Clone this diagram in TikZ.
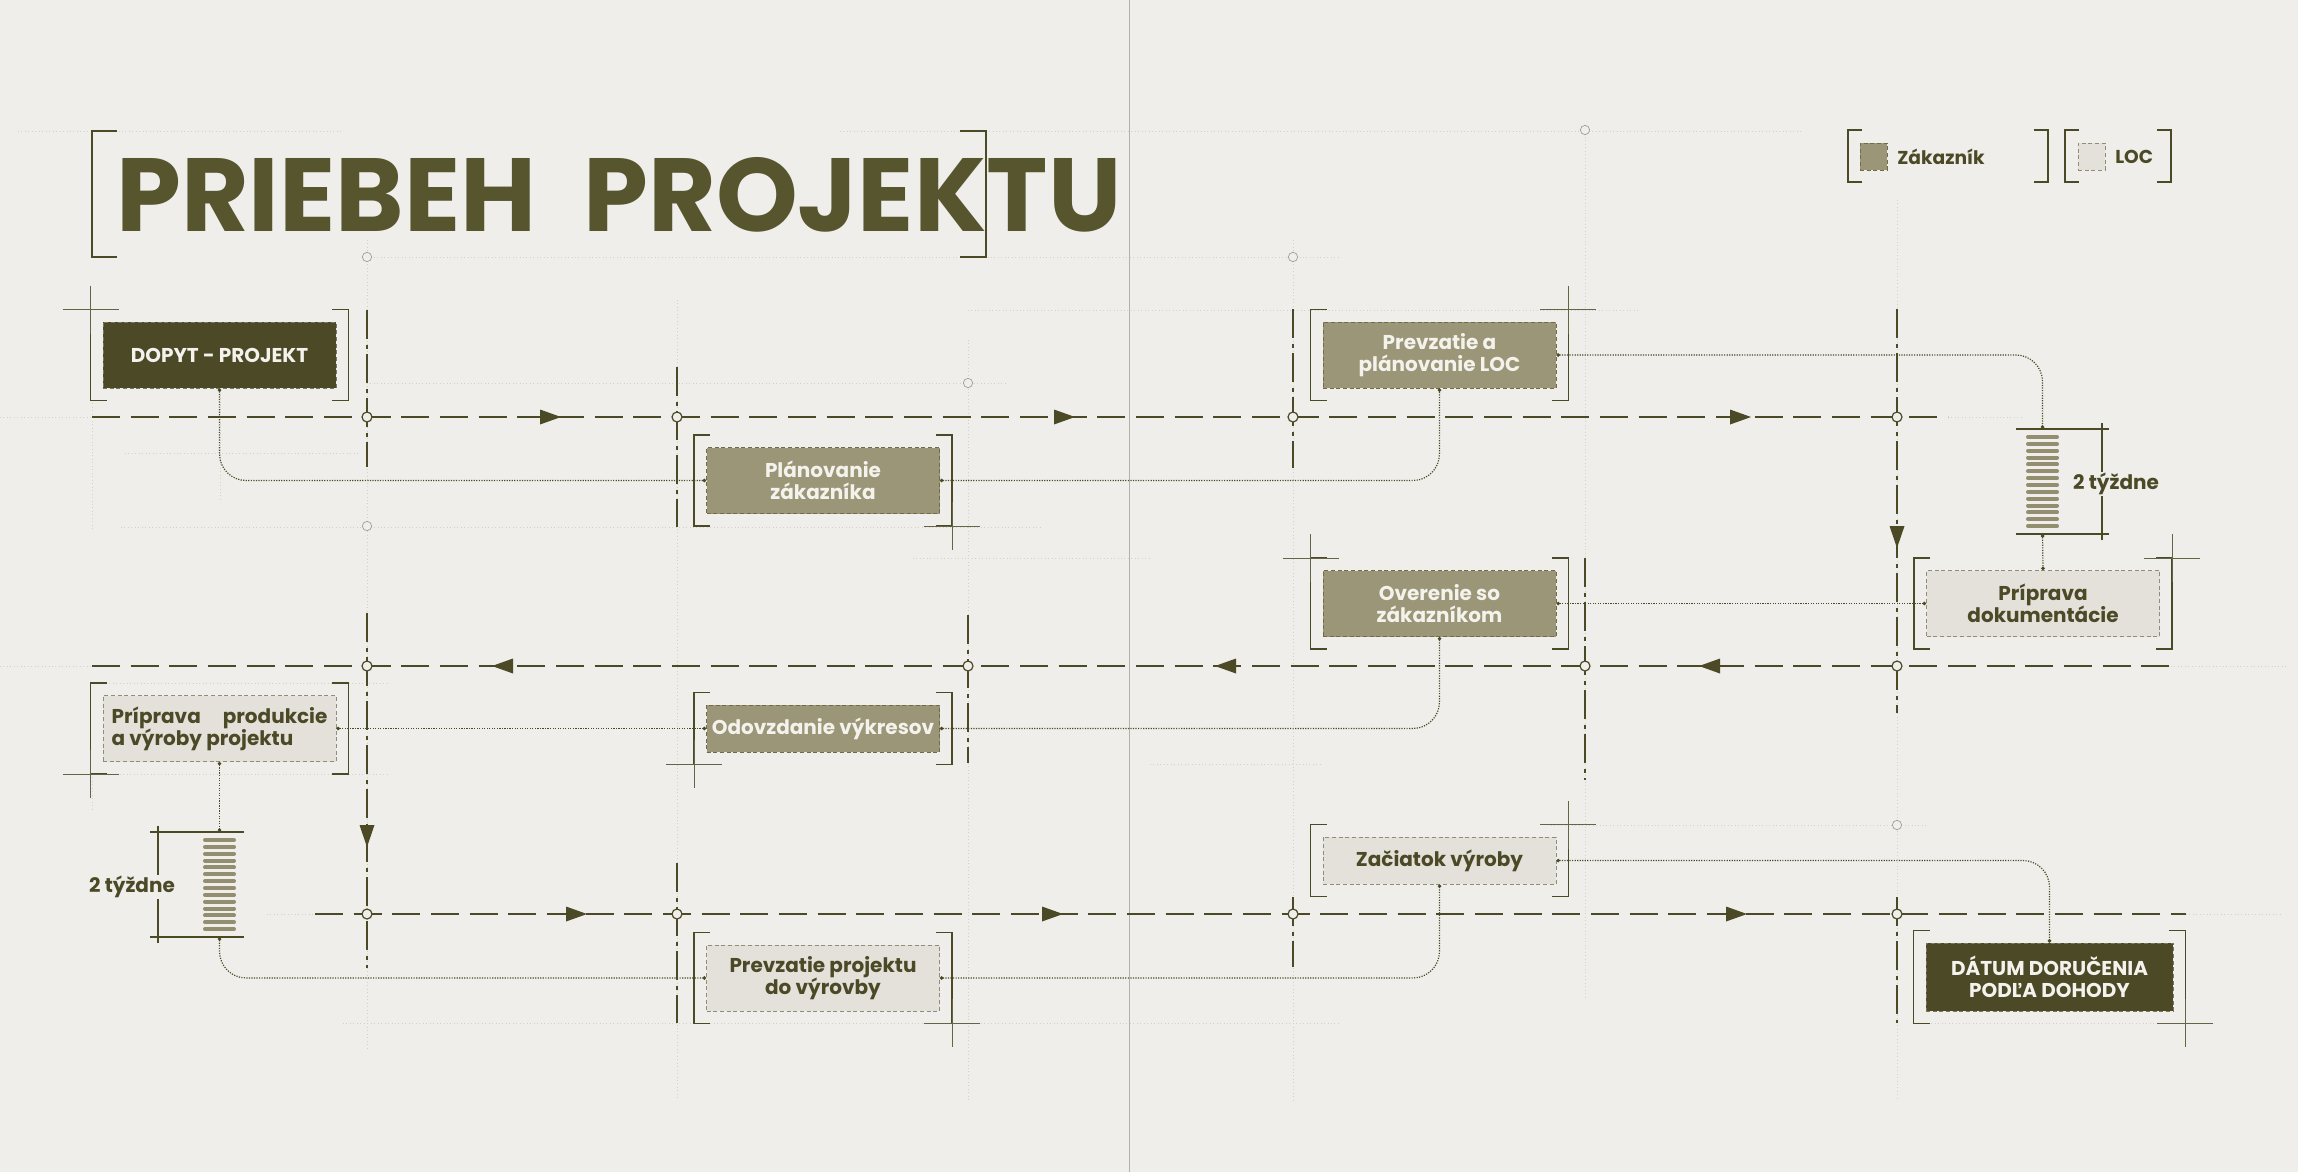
\documentclass[tikz,border=0pt]{standalone}
\usepackage{fontspec}
\setmainfont{Poppins}
\usepackage{tikz}
\usetikzlibrary{arrows.meta}

\definecolor{paper}{HTML}{EFEEEA}
\definecolor{olive}{HTML}{4B4926}
\definecolor{oliveT}{HTML}{57552E}
\definecolor{khaki}{HTML}{9A9677}
\definecolor{stone}{HTML}{E3E1DA}
\definecolor{guide}{HTML}{D2D0C9}
\definecolor{whiteT}{HTML}{F4F2EC}

\tikzset{
  flow/.style={olive, line width=1.6pt, dash pattern=on 21pt off 8pt},
  flowv/.style={olive, line width=1.2pt, dash pattern=on 22pt off 4pt on 3pt off 4pt},
  conn/.style={olive, line width=0.9pt, densely dotted, rounded corners=20pt, {Circle[length=2.6pt]}-{Circle[length=2.6pt]}},
  ghost/.style={guide, line width=0.6pt, dotted},
  fold/.style={guide!85!black, line width=0.6pt},
  frame/.style={olive, line width=0.9pt},
  hair/.style={olive!85, line width=0.7pt},
  dim/.style={olive, line width=0.8pt},
  stripe/.style={khaki!90!olive, line width=3pt, line cap=round},
  knot/.style={circle, draw=olive, fill=paper, line width=0.9pt, inner sep=0pt, minimum size=7.5pt},
  ghostknot/.style={circle, draw=guide!75!black, fill=paper, line width=0.5pt, inner sep=0pt, minimum size=7pt},
  stepbox/.style={rectangle, minimum width=174.75pt, minimum height=49.5pt, inner sep=2pt, align=center,
    font=\bfseries\fontsize{15}{16.5}\selectfont, line width=0.7pt, densely dashed},
  keybox/.style={stepbox, fill=olive, draw=olive!75!white, text=whiteT},
  zakbox/.style={stepbox, fill=khaki, draw=olive!55!khaki, text=whiteT},
  locbox/.style={stepbox, fill=stone, draw=olive!55!stone, text=olive},
  barslot/.style={rectangle, minimum width=26.25pt, minimum height=78.75pt, inner sep=0pt},
  wklabel/.style={fill=paper, inner sep=1pt, text=olive, font=\bfseries\fontsize{15}{16.5}\selectfont},
  legendtext/.style={anchor=west, inner sep=0pt, text=olive, font=\bfseries\fontsize{14}{16}\selectfont},
  swatch/.style={rectangle, minimum size=20.25pt, inner sep=0pt, line width=0.6pt, densely dashed},
  arrR/.pic={\fill[olive] (-10,-7.5) -- (11,0) -- (-10,7.5) -- cycle;},
  arrL/.pic={\fill[olive] (10,-7.5) -- (-11,0) -- (10,7.5) -- cycle;},
  arrD/.pic={\fill[olive] (-7.5,11) -- (0,-11) -- (7.5,11) -- cycle;}
}

\begin{document}
\begin{tikzpicture}[x=0.75pt,y=0.75pt,yscale=-1,xscale=1]
    %Paper
    \fill[paper] (0,0) rectangle (2298,1172);
    \useasboundingbox (0,0) rectangle (2298,1172);

    %Guide lines (faint)
    \draw[fold] (1129,0) -- (1129,1172);
    \foreach \xa/\xb/\y in {18/341/131, 840/1802/131, 367/1340/257, 968/1640/310, 367/1008/383, 125/359/453,
        121/1041/527, 913/1150/558, 92/388/683, 92/388/774, 343/1340/1023, 1150/1322/764, 1551/1926/825,
        1914/2186/1023, 0/92/417, 1948/2021/417, 0/92/666, 2171/2288/666, 267/315/914, 2186/2280/914}
      \draw[ghost] (\xa,\y) -- (\xb,\y);
    \foreach \x/\ya/\yb in {367/240/1050, 677/300/1100, 968/340/1100, 1293/240/1100, 1585/130/1000,
        1897/200/1100, 220/388/500, 92/400/530, 92/774/810}
      \draw[ghost] (\x,\ya) -- (\x,\yb);
    \foreach \x/\y [count=\i] in {367/257, 367/526, 968/383, 1585/130, 1293/257, 1897/825}
      \node[ghostknot] (g\i) at (\x,\y) {};

    %Title
    \node[anchor=base west, inner sep=0pt, text=oliveT, font=\bfseries\fontsize{78}{78}\selectfont] (title) at (116,231) {PRIEBEH\hspace{0.45em}PROJEKTU};
    \draw[frame] (117,131) -- (92,131) -- (92,257) -- (117,257);
    \draw[frame] (960,131) -- (986,131) -- (986,257) -- (960,257);

    %Legend
    \node[swatch, fill=khaki, draw=olive!55!khaki] (lgz) at (1873.5,156.5) {};
    \node[legendtext] (lgztext) at (1897,157) {Zákazník};
    \node[swatch, fill=stone, draw=olive!55!stone] (lgl) at (2091.5,156.5) {};
    \node[legendtext] (lgltext) at (2115,157) {LOC};
    \foreach \xa/\xb in {1848/2048, 2065/2171} {
      \draw[frame] (\xa+14,130) -- (\xa,130) -- (\xa,182) -- (\xa+14,182);
      \draw[frame] (\xb-14,130) -- (\xb,130) -- (\xb,182) -- (\xb-14,182);
    }

    %Flow lines
    \draw[flow] (92,417) -- (1948,417);
    \draw[flow] (92,666) -- (2171,666);
    \draw[flow] (315,914) -- (2186,914);
    \foreach \x/\ya/\yb in {367/310/467, 367/613/968, 677/367/527, 677/863/1023, 968/615/763,
        1293/309/468, 1293/897/967, 1585/558/780, 1897/309/713, 1897/897/1023}
      \draw[flowv] (\x,\ya) -- (\x,\yb);
    \foreach \x in {550,1064,1740} \pic at (\x,417) {arrR};
    \foreach \x in {503,1226,1710} \pic at (\x,666) {arrL};
    \foreach \x in {576,1052,1736} \pic at (\x,914) {arrR};
    \pic at (367,836) {arrD};
    \pic at (1897,537) {arrD};
    \foreach \x/\n in {367/a, 677/b, 1293/d, 1897/f} \node[knot] (k1\n) at (\x,417) {};
    \foreach \x/\n in {367/a, 968/c, 1585/e, 1897/f} \node[knot] (k2\n) at (\x,666) {};
    \foreach \x/\n in {367/a, 677/b, 1293/d, 1897/f} \node[knot] (k3\n) at (\x,914) {};

    %Steps
    \node[keybox] (dopyt) at (219.5,355) {DOPYT - PROJEKT};
    \node[zakbox] (planz) at (823,480.5) {Plánovanie\\zákazníka};
    \node[zakbox] (prevloc) at (1439.5,355) {Prevzatie a\\plánovanie LOC};
    \node[zakbox] (overenie) at (1439.5,603.5) {Overenie so\\zákazníkom};
    \node[locbox] (pripdok) at (2043,603.5) {Príprava\\dokumentácie};
    \node[locbox, align=left] (pripprod) at (219.5,728.5) {Príprava\hspace{1.1em}produkcie\\a výroby projektu};
    \node[zakbox, minimum height=35.25pt] (odovz) at (823,728.5) {Odovzdanie výkresov};
    \node[locbox, minimum height=35.25pt] (zaciatok) at (1439.5,860.5) {Začiatok výroby};
    \node[locbox] (prevproj) at (823,978) {Prevzatie projektu\\do výrovby};
    \node[keybox, minimum width=185.25pt, minimum height=51pt] (datum) at (2049.5,977) {DÁTUM DORUČENIA\\PODĽA DOHODY};

    %Brackets round the steps
    \foreach \n in {dopyt,planz,prevloc,overenie,pripdok,pripprod,odovz,zaciatok,prevproj,datum} {
      \draw[frame] ([shift={(4,-12)}]\n.north west) -- ++(-16,0) -- ([shift={(-12,12)}]\n.south west) -- ++(16,0);
      \draw[frame] ([shift={(-4,-12)}]\n.north east) -- ++(16,0) -- ([shift={(12,12)}]\n.south east) -- ++(-16,0);
    }
    %Cross marks
    \foreach \n/\a/\sx/\sy in {dopyt/north west/-12/-12, planz/south east/12/12, prevloc/north east/12/-12,
        overenie/north west/-12/-12, pripdok/north east/12/-12, pripprod/south west/-12/12,
        odovz/south west/-12/12, zaciatok/north east/12/-12, prevproj/south east/12/12, datum/south east/12/12} {
      \draw[hair] ([shift={(\sx-28,\sy)}]\n.\a) -- ++(56,0);
      \draw[hair] ([shift={(\sx,\sy-24)}]\n.\a) -- ++(0,48);
    }

    %Two weeks bars
    \node[barslot] (bar1) at (2042.5,481.5) {};
    \foreach \i in {0,...,13} \draw[stripe] (2028,437+6.85*\i) -- (2057,437+6.85*\i);
    \draw[dim] (2016,429) -- (2109,429) (2016,534) -- (2109,534) (2102,423) -- (2102,540);
    \node[wklabel] (wk1) at (2116,484) {2 týždne};
    \node[barslot] (bar2) at (219.5,884.5) {};
    \foreach \i in {0,...,13} \draw[stripe] (205,840+6.85*\i) -- (234,840+6.85*\i);
    \draw[dim] (150,832) -- (244,832) (150,937) -- (244,937) (158,826) -- (158,943);
    \node[wklabel] (wk2) at (132,887) {2 týždne};

    %Connectors
    \draw[conn] (dopyt.south) |- (planz.west);
    \draw[conn] (planz.east) -| (prevloc.south);
    \draw[conn] (prevloc.east) -| (bar1.north);
    \draw[conn] (bar1.south) -- (pripdok.north);
    \draw[conn] (pripdok.west) -- (overenie.east);
    \draw[conn] (overenie.south) |- (odovz.east);
    \draw[conn] (odovz.west) -- (pripprod.east);
    \draw[conn] (pripprod.south) -- (bar2.north);
    \draw[conn] (bar2.south) |- (prevproj.west);
    \draw[conn] (prevproj.east) -| (zaciatok.south);
    \draw[conn] (zaciatok.east) -| (datum.north);
\end{tikzpicture}
\end{document}
